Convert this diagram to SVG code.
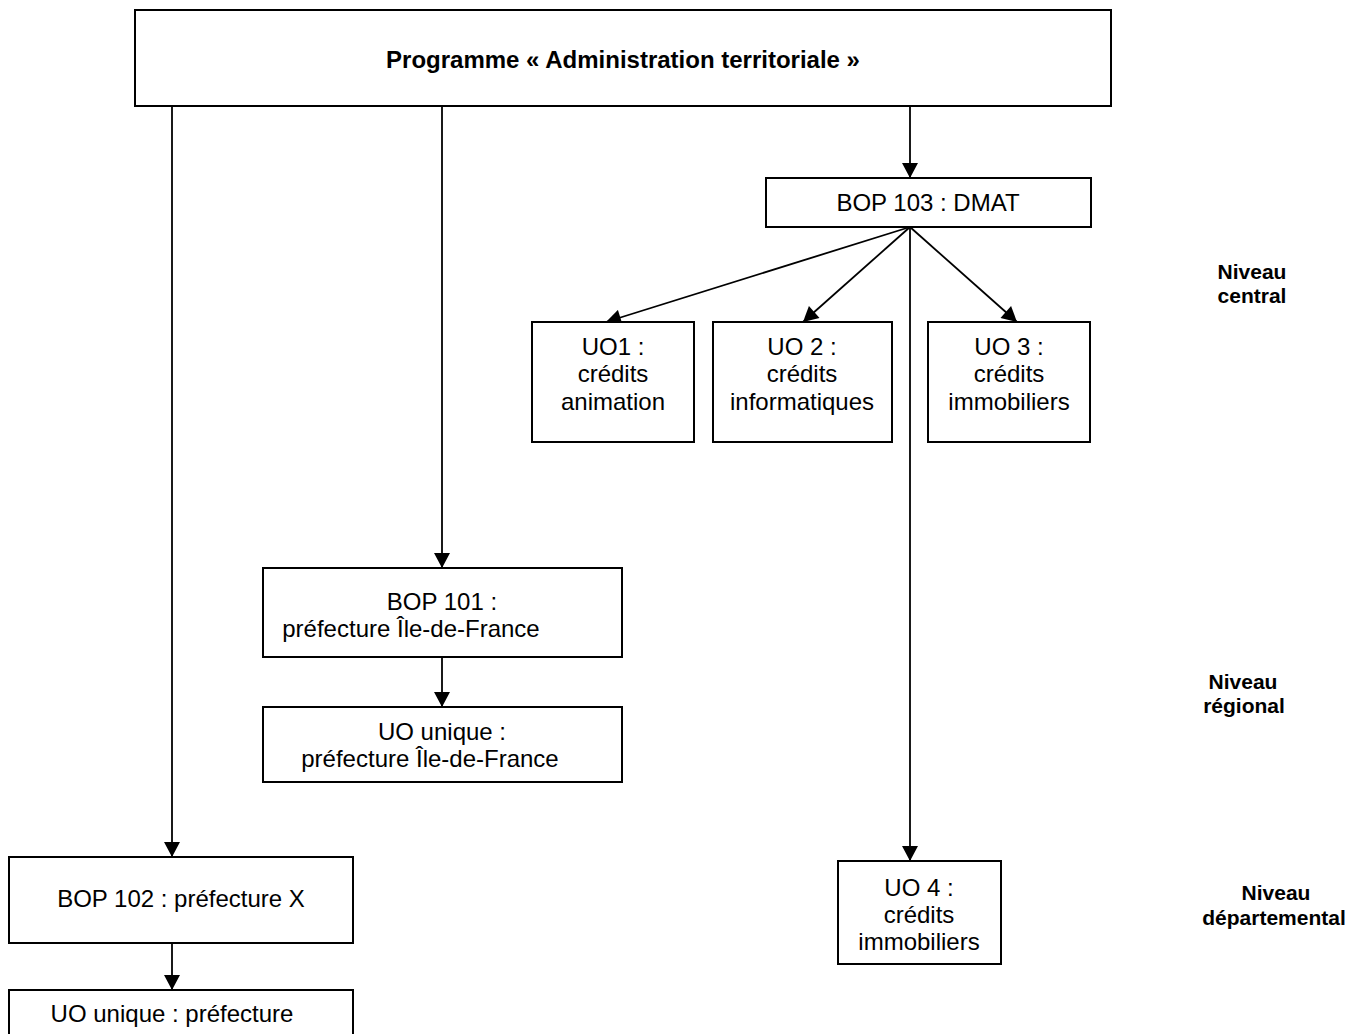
<svg xmlns="http://www.w3.org/2000/svg" width="1371" height="1034" viewBox="0 0 1371 1034">
<style>
.box{fill:#fff;stroke:#000;stroke-width:2}
.t{font-family:"Liberation Sans",Arial,sans-serif;font-size:24px;fill:#000;text-anchor:middle}
.b{font-weight:bold}
.lbl{font-family:"Liberation Sans",Arial,sans-serif;font-size:21px;font-weight:bold;fill:#000;text-anchor:middle}
.c{stroke:#000;stroke-width:1.8;fill:none}
</style>
<defs>
<marker id="ah" markerUnits="userSpaceOnUse" markerWidth="16" markerHeight="16" viewBox="0 0 15 16" refX="15" refY="8" orient="auto">
<path d="M0,0 L15,8 L0,16 z" fill="#000"/>
</marker>
</defs>
<rect width="1371" height="1034" fill="#fff"/>
<g id="connectors">
<line class="c" x1="172" y1="106" x2="172" y2="857" marker-end="url(#ah)"/>
<line class="c" x1="442" y1="106" x2="442" y2="568" marker-end="url(#ah)"/>
<line class="c" x1="910" y1="106" x2="910" y2="178" marker-end="url(#ah)"/>
<line class="c" x1="910" y1="227" x2="606" y2="322" marker-end="url(#ah)"/>
<line class="c" x1="910" y1="227" x2="803" y2="322" marker-end="url(#ah)"/>
<line class="c" x1="910" y1="227" x2="1017" y2="322" marker-end="url(#ah)"/>
<line class="c" x1="910" y1="227" x2="910" y2="861" marker-end="url(#ah)"/>
<line class="c" x1="442" y1="657" x2="442" y2="707" marker-end="url(#ah)"/>
<line class="c" x1="172" y1="943" x2="172" y2="990" marker-end="url(#ah)"/>
</g>
<g id="programme">
<rect class="box" x="135" y="10" width="976" height="96"/>
<text class="t b" x="623" y="68">Programme « Administration territoriale »</text>
</g>
<g id="bop103">
<rect class="box" x="766" y="178" width="325" height="49"/>
<text class="t" x="928" y="211">BOP 103 : DMAT</text>
</g>
<g id="uo1">
<rect class="box" x="532" y="322" width="162" height="120"/>
<text class="t" x="613" y="355">UO1 :</text>
<text class="t" x="613" y="382">crédits</text>
<text class="t" x="613" y="410">animation</text>
</g>
<g id="uo2">
<rect class="box" x="713" y="322" width="179" height="120"/>
<text class="t" x="802" y="355">UO 2 :</text>
<text class="t" x="802" y="382">crédits</text>
<text class="t" x="802" y="410">informatiques</text>
</g>
<g id="uo3">
<rect class="box" x="928" y="322" width="162" height="120"/>
<text class="t" x="1009" y="355">UO 3 :</text>
<text class="t" x="1009" y="382">crédits</text>
<text class="t" x="1009" y="410">immobiliers</text>
</g>
<g id="bop101">
<rect class="box" x="263" y="568" width="359" height="89"/>
<text class="t" x="442" y="610">BOP 101 :</text>
<text class="t" x="411" y="637">préfecture Île-de-France</text>
</g>
<g id="uo-unique-idf">
<rect class="box" x="263" y="707" width="359" height="75"/>
<text class="t" x="442" y="740">UO unique :</text>
<text class="t" x="430" y="767">préfecture Île-de-France</text>
</g>
<g id="bop102">
<rect class="box" x="9" y="857" width="344" height="86"/>
<text class="t" x="181" y="907">BOP 102 : préfecture X</text>
</g>
<g id="uo-unique-x">
<rect class="box" x="9" y="990" width="344" height="60"/>
<text class="t" x="172" y="1022">UO unique : préfecture</text>
</g>
<g id="uo4">
<rect class="box" x="838" y="861" width="163" height="103"/>
<text class="t" x="919" y="896">UO 4 :</text>
<text class="t" x="919" y="923">crédits</text>
<text class="t" x="919" y="950">immobiliers</text>
</g>
<g id="niveau-central">
<text class="lbl" x="1252" y="279">Niveau</text>
<text class="lbl" x="1252" y="303">central</text>
</g>
<g id="niveau-regional">
<text class="lbl" x="1243" y="689">Niveau</text>
<text class="lbl" x="1244" y="713">régional</text>
</g>
<g id="niveau-departemental">
<text class="lbl" x="1276" y="900">Niveau</text>
<text class="lbl" x="1274" y="925">départemental</text>
</g>
</svg>
